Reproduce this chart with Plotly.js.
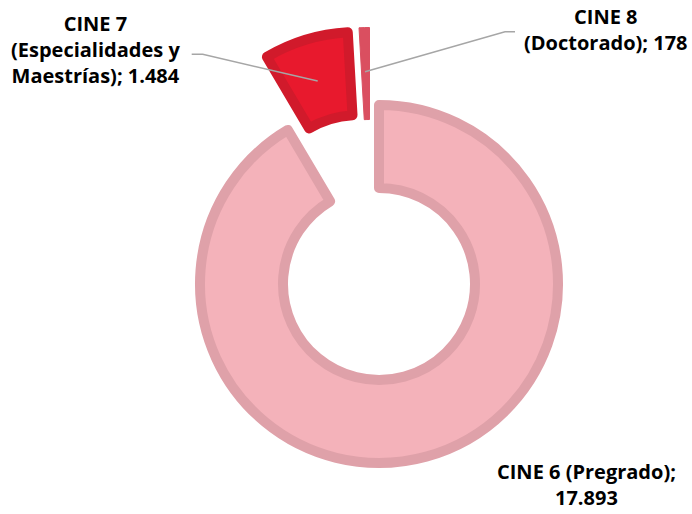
<!DOCTYPE html>
<html>
<head>
<meta charset="utf-8">
<script src="https://cdn.plot.ly/plotly-3.0.1.min.js"></script>
<style>html,body{margin:0;padding:0;background:#fff;}#chart{width:692px;height:514px;}</style>
</head>
<body>
<div id="chart"></div>
<script>
// ---- data ----
const categories = ["CINE 6 (Pregrado)", "CINE 7 (Especialidades y Maestrías)", "CINE 8 (Doctorado)"];
const values = [17893, 1484, 178];
const labelTexts = ["CINE 6 (Pregrado);<br>17.893", "CINE 7<br>(Especialidades y<br>Maestrías); 1.484", "CINE 8<br>(Doctorado); 178"];

// ---- styling ----
const W = 692, H = 514;
const fillColors = ["#F4B2BA", "#E8192D", "#DA4F60"];
const lineColors = ["#DFA1A9", "#D11A2B", "#DA4F60"];
const lineWidths = [10, 10, 1];
const CLEAR = "rgba(0,0,0,0)";

function domainFor(cx, cy, r) {
  return {
    x: [(cx - r) / W, (cx + r) / W],
    y: [(H - cy - r) / H, (H - cy + r) / H]
  };
}
// each slice drawn by its own layer (same data, others transparent) so the exploded pieces keep full radius
const layerGeom = [
  {cx: 379, cy: 284, r: 179, hole: 96 / 179},
  {cx: 358, cy: 211, r: 179, hole: 96 / 179},
  {cx: 369.5, cy: 211, r: 183.5, hole: 91.5 / 183.5}
];

const traces = layerGeom.map((g, k) => ({
  type: "pie",
  labels: categories,
  values: values,
  sort: false,
  direction: "clockwise",
  rotation: 0,
  hole: g.hole,
  domain: domainFor(g.cx, g.cy, g.r),
  textinfo: "none",
  hoverinfo: "skip",
  showlegend: false,
  marker: {
    colors: categories.map((c, i) => i === k ? fillColors[i] : CLEAR),
    line: {
      color: categories.map((c, i) => i === k ? lineColors[i] : CLEAR),
      width: categories.map((c, i) => i === k ? lineWidths[i] : 0)
    }
  }
}));

function px(x) { return x / W; }
function py(y) { return 1 - y / H; }
function pathOf(pts) {
  return pts.map((p, i) => (i ? "L" : "M") + px(p[0]).toFixed(5) + "," + py(p[1]).toFixed(5)).join(" ");
}

const labelFont = {family: "Open Sans, sans-serif", size: 20, color: "#000000", weight: 700};
const labelPos = [[586, 484.5], [96, 49], [606, 29]];
const annotations = labelTexts.map((t, i) => ({
  text: "<b>" + t + "</b>",
  xref: "paper", yref: "paper",
  x: px(labelPos[i][0]), y: py(labelPos[i][1]),
  xanchor: "center", yanchor: "middle",
  align: "center",
  borderpad: 0,
  showarrow: false,
  font: labelFont
}));

const shapes = [
  {type: "path", xref: "paper", yref: "paper", path: pathOf([[191.7, 54.3], [202.7, 54.3], [317.7, 81]]),
   line: {color: "#A6A6A6", width: 1.5}},
  {type: "path", xref: "paper", yref: "paper", path: pathOf([[365, 71.7], [505, 31.7], [515, 31.7]]),
   line: {color: "#A6A6A6", width: 1.5}}
];

const layout = {
  width: W, height: H,
  margin: {l: 0, r: 0, t: 0, b: 0},
  paper_bgcolor: "#ffffff",
  plot_bgcolor: "#ffffff",
  showlegend: false,
  annotations: annotations,
  shapes: shapes
};

Plotly.newPlot("chart", traces, layout, {displayModeBar: false, staticPlot: true});
</script>
</body>
</html>
